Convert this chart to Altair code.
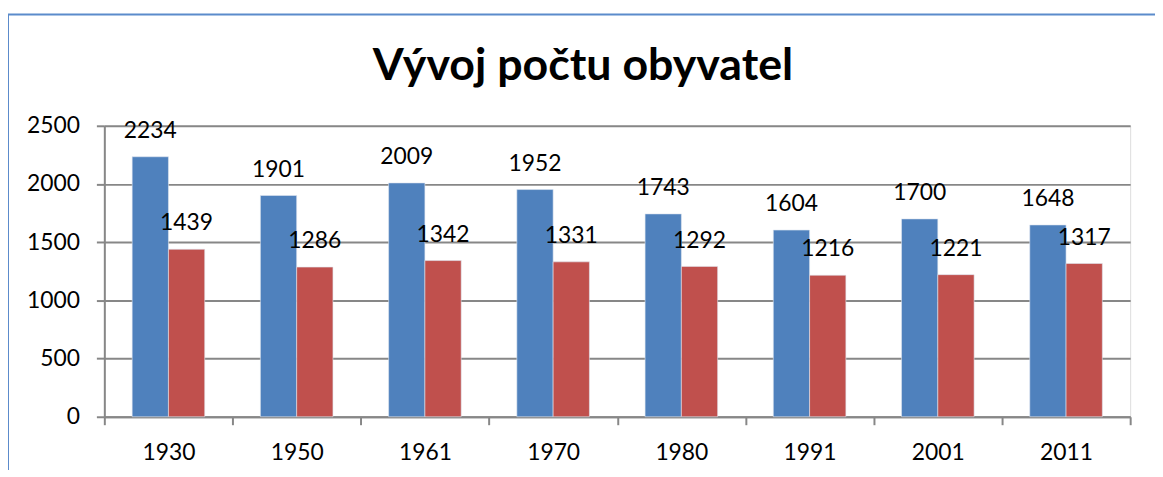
import altair as alt
import pandas as pd

years = ["1930", "1950", "1961", "1970", "1980", "1991", "2001", "2011"]
series_a = [2234, 1901, 2009, 1952, 1743, 1604, 1700, 1648]
series_b = [1439, 1286, 1342, 1331, 1292, 1216, 1221, 1317]
series_names = ["A", "B"]
colors = ["#4F81BD", "#C0504D"]
title_text = "Vývoj počtu obyvatel"

rows = []
for y, a, b in zip(years, series_a, series_b):
    rows.append({"year": y, "series": series_names[0], "value": a})
    rows.append({"year": y, "series": series_names[1], "value": b})
df = pd.DataFrame(rows)

FONT = "Lato"
FS = 23

x = alt.X("year:N", sort=years, title=None,
          scale=alt.Scale(paddingInner=0, paddingOuter=0),
          axis=alt.Axis(tickBand="extent", labelAngle=0, labelFontSize=FS,
                        labelFont=FONT, labelColor="#000000", labelPadding=17,
                        tickSize=8, tickColor="#878787", tickWidth=2,
                        domainColor="#878787", domainWidth=2, grid=False))
xo = alt.XOffset("series:N", sort=series_names,
                 scale=alt.Scale(paddingInner=0, paddingOuter=0.767))
y = alt.Y("value:Q", title=None,
          scale=alt.Scale(domain=[0, 2500]),
          axis=alt.Axis(values=[0, 500, 1000, 1500, 2000, 2500], format="d",
                        labelFontSize=FS,
                        labelFont=FONT, labelColor="#000000", labelPadding=17,
                        tickSize=8, tickColor="#878787", tickWidth=2,
                        domainColor="#878787", domainWidth=2,
                        gridColor="#878787", gridWidth=2))

base = alt.Chart(df)
bars = base.mark_bar(stroke="#dfe6f0", strokeWidth=0.6).encode(
    x=x, xOffset=xo, y=y,
    color=alt.Color("series:N", sort=series_names,
                    scale=alt.Scale(domain=series_names, range=colors), legend=None),
)
labels = base.mark_text(baseline="alphabetic", dy=-19, fontSize=FS, font=FONT,
                        color="#000000").encode(
    x=x, xOffset=xo, y=y, text=alt.Text("value:Q", format="d"),
)

frame = alt.Data(values=[{"t": title_text}])
left_border = alt.Chart(frame).mark_rule(color="#5B8BCB", strokeWidth=2).encode(
    x=alt.value(-97), y=alt.value(-112), y2=alt.value(360))
top_border = alt.Chart(frame).mark_rule(color="#5B8BCB", strokeWidth=2).encode(
    x=alt.value(-97), x2=alt.value(1070), y=alt.value(-112))
title = alt.Chart(frame).mark_text(font=FONT, fontSize=45, fontWeight="bold",
                                   color="#000000", align="center",
                                   baseline="alphabetic").encode(
    x=alt.value(482), y=alt.value(-46), text="t:N")

chart = alt.layer(bars, labels, left_border, top_border, title).properties(
    width=1033, height=293,
    autosize=alt.AutoSizeParams(type="none"),
    padding={"left": 97, "top": 117, "right": 25, "bottom": 52},
).configure_view(stroke=None).configure(background="#ffffff")

chart.save("out.html", embed_options={"renderer": "svg", "actions": False})
